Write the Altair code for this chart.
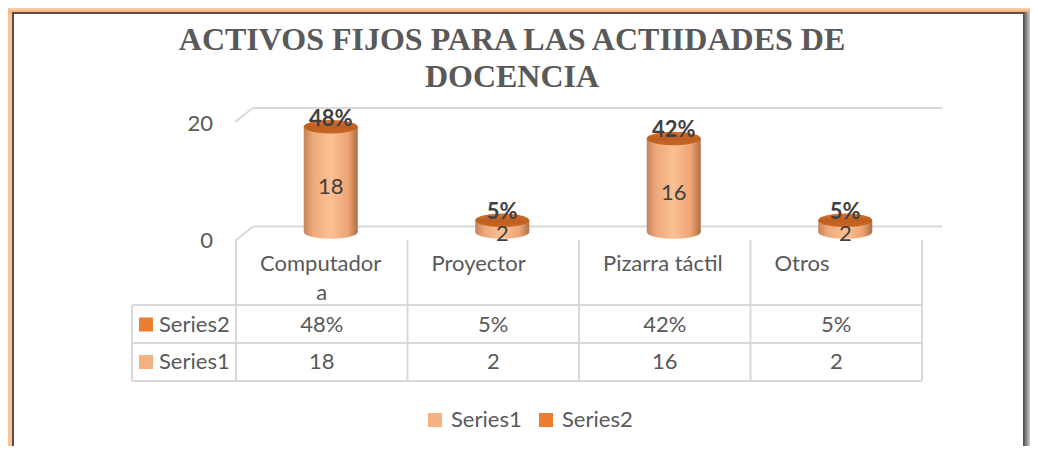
import altair as alt
import pandas as pd

# ---------------- data ----------------
categories = ["Computadora", "Proyector", "Pizarra táctil", "Otros"]
label_line1 = ["Computador", "Proyector", "Pizarra táctil", "Otros"]
label_line2 = ["a", "", "", ""]
series1 = [18, 2, 16, 2]
series2_pct = [48, 5, 42, 5]
series_names = ["Series1", "Series2"]
series_colors = ["#F4B183", "#ED7D31"]
y_ticks = [0, 20]
title_lines = ["ACTIVOS FIJOS PARA LAS ACTIIDADES DE", "DOCENCIA"]

df = pd.DataFrame({"cat": categories, "s1": series1, "s2": series2_pct,
                   "l1": label_line1, "l2": label_line2})
df["s2txt"] = df["s2"].astype(str) + "%"
df["s1txt"] = df["s1"].astype(str)
df["mid"] = df["s1"] / 2

ticks_df = pd.DataFrame({"t": y_ticks})
ticks_df["ttxt"] = ticks_df["t"].astype(str)
series_df = pd.DataFrame({"series": series_names})
one = pd.DataFrame({"k": [0]})
last_cat = pd.DataFrame({"cat": [categories[-1]]})

# ---------------- styling ----------------
FONT = "Lato"
TXT = "#595959"
DARK = "#404040"
GRID = "#D9D9D9"
W, H = 1022, 438

xs = alt.Scale(domain=categories, range=[228, 914], paddingInner=0, paddingOuter=0)
ys = alt.Scale(domain=[0, 20], range=[224, 107])

ELL = "M -1 0 A 1 0.25 0 1 0 1 0 A 1 0.25 0 1 0 -1 0 Z"
CYL_W = 54

side_grad = alt.LinearGradient(
    gradient="linear", x1=0, x2=1, y1=0, y2=0,
    stops=[alt.GradientStop(offset=0, color="#C4845A"),
           alt.GradientStop(offset=0.18, color="#EFAA7B"),
           alt.GradientStop(offset=0.5, color="#FBC094"),
           alt.GradientStop(offset=0.82, color="#EEA474"),
           alt.GradientStop(offset=1, color="#AE6E45")])
top_grad = alt.LinearGradient(
    gradient="linear", x1=0, x2=0, y1=0, y2=1,
    stops=[alt.GradientStop(offset=0, color="#D9722F"),
           alt.GradientStop(offset=0.5, color="#BE5F1F"),
           alt.GradientStop(offset=1, color="#C66726")])
shadow_grad = alt.LinearGradient(
    gradient="linear", x1=0, x2=1, y1=0, y2=0,
    stops=[alt.GradientStop(offset=0, color="#5A5A5A"),
           alt.GradientStop(offset=1, color="#D0D0D0")])
glow_grad = alt.LinearGradient(
    gradient="linear", x1=0, x2=0, y1=0, y2=1,
    stops=[alt.GradientStop(offset=0, color="#FBD2AE"),
           alt.GradientStop(offset=1, color="#F6A86C")])

X_cat = alt.X("cat:N", scale=xs, axis=None)
X_start = alt.X("cat:N", scale=xs, axis=None, bandPosition=0)
X_end = alt.X("cat:N", scale=xs, axis=None, bandPosition=1)

color_scale = alt.Scale(domain=series_names, range=series_colors)
legend = alt.Legend(orient="none", legendX=416, legendY=401, direction="horizontal",
                    title=None, symbolType="square", symbolSize=196, symbolStrokeWidth=0,
                    symbolOpacity=1, labelFont=FONT, labelFontSize=22, labelColor=TXT,
                    columnPadding=13, labelOffset=5, padding=0)

# ---------------- frame ----------------
glow_top = alt.Chart(one).mark_rect(fill=glow_grad).encode(
    x=alt.value(0), x2=alt.value(1022), y=alt.value(0), y2=alt.value(5))
frame = alt.Chart(one).mark_rect(fill="white", stroke="#5A4F48", strokeWidth=2).encode(
    x=alt.value(5), x2=alt.value(1016), y=alt.value(5), y2=alt.value(445))
shadow = alt.Chart(one).mark_rect(fill=shadow_grad).encode(
    x=alt.value(1016), x2=alt.value(1022), y=alt.value(4), y2=alt.value(438))

# ---------------- 3D walls ----------------
def seg(x1, y1, x2, y2):
    return alt.Chart(one).mark_rule(color=GRID, strokeWidth=2).encode(
        x=alt.value(x1), y=alt.value(y1), x2=alt.value(x2), y2=alt.value(y2))

walls = [seg(245, 100, 934, 100), seg(227, 114, 245, 100),
         seg(245, 218.5, 934, 218.5), seg(227, 233, 245, 218.5)]

# ---------------- table lines ----------------
hlines = [alt.Chart(one).mark_rule(color=GRID, strokeWidth=2).encode(
    x=alt.value(124), x2=alt.value(914), y=alt.value(yy)) for yy in (297, 335, 373)]
vleft = alt.Chart(one).mark_rule(color=GRID, strokeWidth=2).encode(
    x=alt.value(124), y=alt.value(297), y2=alt.value(373))
vcats = alt.Chart(df).mark_rule(color=GRID, strokeWidth=2).encode(
    x=X_start, y=alt.value(232), y2=alt.value(373))
vend = alt.Chart(last_cat).mark_rule(color=GRID, strokeWidth=2).encode(
    x=X_end, y=alt.value(232), y2=alt.value(373))

# ---------------- y tick labels (value axis) ----------------
ytick_lbl = alt.Chart(ticks_df).mark_text(font=FONT, fontSize=22, color=TXT, align="right",
                                          baseline="middle", dy=9).encode(
    x=alt.value(205), y=alt.Y("t:Q", scale=ys, axis=None), text="ttxt:N")

# ---------------- cylinders ----------------
Y_axis = alt.Y("s1:Q", scale=ys,
               axis=alt.Axis(values=y_ticks, orient="left", domain=False, ticks=False,
                             grid=False, labels=False, title=None))
Y_main = alt.Y("s1:Q", scale=ys, axis=None)

bottom = alt.Chart(df).mark_point(shape=ELL, size=CYL_W ** 2, filled=True, fill=side_grad,
                                  opacity=1, strokeWidth=0, xOffset=9).encode(
    x=X_cat, y=alt.datum(0))
body = alt.Chart(df).mark_bar(size=CYL_W, xOffset=9, fill=side_grad).encode(
    x=X_cat, y=Y_axis, y2=alt.datum(0))
top = alt.Chart(df).mark_point(shape=ELL, size=CYL_W ** 2, filled=True, fill=top_grad,
                               opacity=1, strokeWidth=0, xOffset=9).encode(
    x=X_cat, y=Y_main)

pct_lbl = alt.Chart(df).mark_text(font=FONT, fontSize=22, fontWeight="bold", color=DARK,
                                  dy=-8, xOffset=9).encode(
    x=X_cat, y=Y_main, text="s2txt:N")
val_lbl = alt.Chart(df).mark_text(font=FONT, fontSize=22, color=DARK, dy=8, xOffset=9).encode(
    x=X_cat, y=alt.Y("mid:Q", scale=ys, axis=None), text="s1txt:N")

# ---------------- table text ----------------
cat1 = alt.Chart(df).mark_text(font=FONT, fontSize=22, color=TXT, align="left",
                               baseline="alphabetic", dx=24).encode(
    x=X_start, y=alt.value(263), text="l1:N")
cat2 = alt.Chart(df).mark_text(font=FONT, fontSize=22, color=TXT, align="center",
                               baseline="alphabetic").encode(
    x=X_cat, y=alt.value(292), text="l2:N")
row2 = alt.Chart(df).mark_text(font=FONT, fontSize=22, color=TXT, baseline="middle").encode(
    x=X_cat, y=alt.value(316.5), text="s2txt:N")
row1 = alt.Chart(df).mark_text(font=FONT, fontSize=22, color=TXT, baseline="middle").encode(
    x=X_cat, y=alt.value(354), text="s1txt:N")

color_enc = alt.Color("series:N", scale=color_scale, legend=legend)
key2 = alt.Chart(series_df).transform_filter(alt.datum.series == "Series2").mark_square(
    size=196, opacity=1, filled=True).encode(x=alt.value(138), y=alt.value(316.5), color=color_enc)
key1 = alt.Chart(series_df).transform_filter(alt.datum.series == "Series1").mark_square(
    size=196, opacity=1, filled=True).encode(x=alt.value(138), y=alt.value(354), color=color_enc)
rlab2 = alt.Chart(series_df).transform_filter(alt.datum.series == "Series2").mark_text(
    font=FONT, fontSize=22, color=TXT, align="left", baseline="middle").encode(
    x=alt.value(151), y=alt.value(316.5), text="series:N")
rlab1 = alt.Chart(series_df).transform_filter(alt.datum.series == "Series1").mark_text(
    font=FONT, fontSize=22, color=TXT, align="left", baseline="middle").encode(
    x=alt.value(151), y=alt.value(354), text="series:N")

chart = alt.layer(
    glow_top, frame, shadow, *walls, *hlines, vleft, vcats, vend, ytick_lbl,
    body, bottom, top, pct_lbl, val_lbl,
    cat1, cat2, row2, row1, key2, key1, rlab2, rlab1,
).properties(
    width=W, height=H, padding=0,
    autosize=alt.AutoSizeParams(type="none"),
    title=alt.TitleParams(text=title_lines, font="Liberation Serif", fontSize=32,
                          fontWeight="bold", color=TXT, anchor="middle", frame="group",
                          offset=-86, lineHeight=37, dx=-7),
    background="#F9C39A",
).configure_view(strokeWidth=0)

chart.save("out.html", embed_options={"renderer": "svg", "actions": False})
